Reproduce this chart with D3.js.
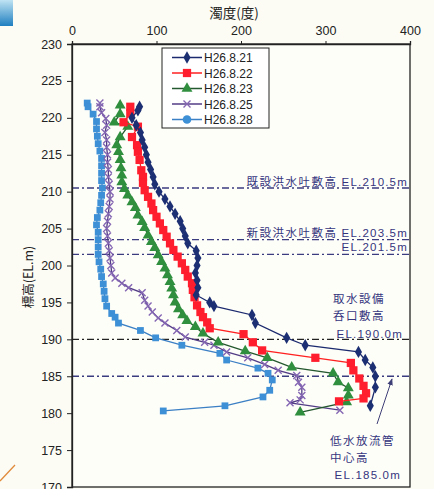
<!DOCTYPE html>
<html>
<head>
<meta charset="utf-8">
<script src="https://cdnjs.cloudflare.com/ajax/libs/d3/7.8.5/d3.min.js"></script>
<style>
  body { margin: 0; background: #fcfcf4; }
  svg { display: block; }
  text { font-family: "Liberation Sans", Arial, sans-serif; fill: #222; }
  .jp { font-family: "Noto Sans CJK JP", sans-serif; }
  .note { fill: #35357e; font-size: 11.5px; }
  .note .cjk { font-family: "Noto Sans CJK JP", sans-serif; letter-spacing: 1.5px; }
  .note .el { font-family: "Liberation Sans", Arial, sans-serif; letter-spacing: 1.2px; }
</style>
</head>
<body>
<svg id="chart"></svg>
<script>
// survey dates
const seriesNames = ['H26.8.21', 'H26.8.22', 'H26.8.23', 'H26.8.25', 'H26.8.28'];
const xTicks = [0, 100, 200, 300, 400];
const yTicks = [170, 175, 180, 185, 190, 195, 200, 205, 210, 215, 220, 225, 230];

// reference levels (EL.m)
const refLevels = [210.5, 203.5, 201.5, 190, 185];

// [elevation EL.m, turbidity]
const d0821 = [[221.5,80],[221,78],[220,71],[219,76],[218,81],[217,83],[216,86],[215,88],[214,90],[213,93],
  [212,96],[211,98],[210,103],[209,110],[208,116],[207,122],[206,128],[205,131],[204,134],[203,137],
  [202,147],[201,149],[200,148],[199,146],[198,148],[197,149],[196,147],[195,163],[194.5,168],[193.3,213],
  [192.2,217],[190.2,254],[189.2,276],[188.3,339],[187.2,347],[186.2,356],[185,359],[183.5,359],[181,353]];
const d0822 = [[221.5,69],[220.6,69],[219.4,61],[218.8,78],[217.4,71],[216.3,77],[215.4,78],[214.3,80],
  [212.9,82],[212,84],[211.2,84],[210.2,86],[209.3,90],[208.4,94],[207.5,96],[206.6,100],[205.7,104],
  [204.8,108],[203.9,112],[203,116],[202.1,120],[201.2,125],[200.3,130],[199.4,134],[198.5,137],[197.6,142],
  [196.7,143],[195.7,145],[194.6,148],[193.7,152],[193,155],[192.3,160],[191.5,163],[190.7,203],[189.6,214],
  [188.5,225],[187.5,288],[186.8,330],[185.8,333],[184.7,340],[183.7,345],[182.7,348],[182,345],[181.6,316]];
const d0823 = [[221.7,57],[220.5,57],[219.4,50],[218.8,66],[217.4,57],[216.3,53],[215.4,55],[214.3,57],
  [213.2,58],[212.2,59],[211.3,59],[210.4,62],[209.5,66],[208.6,71],[207.8,75],[206.8,78],[205.9,83],
  [205.1,86],[204.1,90],[203.2,94],[202.4,98],[201.4,102],[200.5,106],[199.6,110],[198.7,113],[197.8,116],
  [196.9,118],[196,120],[195,122],[194.1,126],[193.3,131],[192.5,136],[191.7,146],[190.8,155],[189.6,173],
  [188.4,205],[187.5,231],[186.2,260],[185.4,309],[184.2,315],[183.4,327],[182.4,327],[181.5,325],[180.1,270]];
const d0825 = [[222,33],[221.5,33],[220.7,35],[219.9,40],[219,41],[218,39],[217,41],[216,41],[215,42],
  [214,42],[213,43],[212,43],[211,44],[210,45],[209,45],[208,44],[207,43],[206,42],[205,41],[204,42],
  [203,43],[202,44],[201,45],[200,46],[199,47],[198.3,51],[197.6,59],[197,67],[196.3,83],[195.3,86],
  [194.5,90],[193.7,95],[192.9,102],[192.2,110],[191.2,124],[190.3,134],[189.6,157],[189.2,168],[188.3,183],
  [187.5,208],[186.6,228],[185.8,244],[185.1,266],[184.2,268],[183.5,272],[182.4,272],[181.8,270],
  [181.4,258],[180.4,317]];
const d0828 = [[222,18],[221.5,19],[220.5,25],[219.5,29],[218.5,29],[217.5,30],[216.5,31],[215.5,33],
  [214.5,35],[213.5,35],[212.5,35],[211.5,35],[210.5,36],[209.5,35],[208.5,34],[207.5,33],[206.5,30],
  [205.5,29],[204.5,31],[203.5,31],[202.5,31],[201.5,31],[200.5,32],[199.5,34],[198.5,35],[197.5,37],
  [196.5,38],[195.5,39],[194.5,41],[193.5,47],[193,51],[192.2,55],[191.2,81],[190.2,99],[189.2,130],
  [188.1,175],[187.2,183],[186.1,220],[185.4,232],[184.5,237],[183.1,234],[182.2,226],[181,181],[180.3,108]];

const width = 434, height = 489;
const svg = d3.select('#chart').attr('width', width).attr('height', height);

const x = d3.scaleLinear().domain([0, 400]).range([72, 410]);
const y = d3.scaleLinear().domain([170, 230]).range([487, 44]);

// decoration in the corners of the scan
const defs = svg.append('defs');
const grad = defs.append('linearGradient')
    .attr('id', 'corner').attr('x1', 0).attr('y1', 0).attr('x2', 0).attr('y2', 1);
grad.append('stop').attr('offset', '0%').attr('stop-color', '#bfe3f3');
grad.append('stop').attr('offset', '100%').attr('stop-color', '#1f7fc0');
svg.append('rect').attr('x', 0).attr('y', 0).attr('width', 13).attr('height', 26).attr('fill', 'url(#corner)');
svg.append('line').attr('x1', 0).attr('y1', 481).attr('x2', 15).attr('y2', 465)
    .attr('stroke', '#e08a3a').attr('stroke-width', 1.2);

defs.append('marker')
    .attr('id', 'arrow').attr('viewBox', '0 0 10 10').attr('refX', 9).attr('refY', 5)
    .attr('markerWidth', 7).attr('markerHeight', 7).attr('orient', 'auto')
  .append('path').attr('d', 'M0,1L10,5L0,9z').attr('fill', '#3f3f78');

// plot frame
svg.append('rect')
    .attr('x', x(0)).attr('y', y(230))
    .attr('width', x(400) - x(0)).attr('height', y(170) - y(230))
    .attr('fill', '#fefef8').attr('stroke', '#222').attr('stroke-width', 1.3);

// reference levels
svg.append('g').selectAll('line')
    .data(refLevels)
    .join('line')
    .attr('x1', x(0)).attr('x2', x(400))
    .attr('y1', d => y(d)).attr('y2', d => y(d))
    .attr('stroke', d => d === 190 ? '#222' : '#3b3b80')
    .attr('stroke-width', 1.3)
    .attr('stroke-dasharray', '7,3,2,3');

// axes
const gx = svg.append('g')
    .attr('transform', `translate(0,${y(230)})`)
    .call(d3.axisTop(x).tickValues(xTicks).tickSize(3).tickPadding(6));
const gy = svg.append('g')
    .attr('transform', `translate(${x(0)},0)`)
    .call(d3.axisLeft(y).tickValues(yTicks).tickSize(5).tickPadding(5));
[gx, gy].forEach(g => {
    g.select('.domain').attr('stroke', '#222').attr('stroke-width', 1.3);
    g.selectAll('.tick line').attr('stroke', '#222');
    g.selectAll('.tick text').attr('font-size', 12.5).attr('fill', '#222')
        .style('font-family', '"Liberation Sans", Arial, sans-serif');
});

svg.append('text').attr('class', 'jp')
    .attr('x', 234).attr('y', 18).attr('text-anchor', 'middle')
    .attr('font-size', 13.5).text('濁度(度)');
svg.append('text').attr('class', 'jp')
    .attr('transform', 'translate(33,277) rotate(-90)').attr('text-anchor', 'middle')
    .attr('font-size', 12.5).text('標高(EL.m)');

// series styles
const styles = [
    {data: d0821, line: '#1b2a6e', fill: '#1c2f73', shape: d3.symbolDiamond, size: 44},
    {data: d0822, line: '#ff2020', fill: '#ff1e2d', shape: d3.symbolSquare, size: 68},
    {data: d0823, line: '#24582e', fill: '#2f8f3f', shape: d3.symbolTriangle, size: 52},
    {data: d0825, line: '#523c86', fill: '#8466b3', shape: 'x', size: 3.5},
    {data: d0828, line: '#3b7fc4', fill: '#3d8fd6', shape: d3.symbolSquare, size: 46}
];

const line = d3.line().x(d => x(d[1])).y(d => y(d[0]));

function marker(sel, s) {
    if (s.shape === 'x') {
        const r = s.size;
        sel.append('path')
            .attr('d', `M${-r},${-r}L${r},${r}M${-r},${r}L${r},${-r}`)
            .attr('stroke', s.fill).attr('stroke-width', 1.4).attr('fill', 'none');
    } else {
        sel.append('path')
            .attr('d', d3.symbol().type(s.shape).size(s.size))
            .attr('fill', s.fill);
    }
}

// draw back to front: last survey underneath
styles.slice().reverse().forEach(s => {
    const g = svg.append('g');
    g.append('path')
        .datum(s.data)
        .attr('d', line)
        .attr('fill', 'none')
        .attr('stroke', s.line)
        .attr('stroke-width', 1.3);
    g.selectAll('g')
        .data(s.data)
        .join('g')
        .attr('transform', d => `translate(${x(d[1])},${y(d[0])})`)
        .each(function() { marker(d3.select(this), s); });
});

// legend
const lg = svg.append('g').attr('transform', 'translate(162,48)');
lg.append('rect').attr('width', 107).attr('height', 80)
    .attr('fill', '#fff').attr('stroke', '#222').attr('stroke-width', 1);
styles.forEach((s, i) => {
    const row = lg.append('g').attr('transform', `translate(0,${9.5 + i * 15.5})`);
    row.append('line').attr('x1', 10).attr('x2', 40).attr('stroke', s.line).attr('stroke-width', 1.5);
    const m = row.append('g').attr('transform', 'translate(25,0)');
    if (i === 4) {
        m.append('circle').attr('r', 4.3).attr('fill', s.fill);
    } else {
        marker(m, s);
    }
    row.append('text').attr('x', 42).attr('y', 4.5)
        .attr('font-size', 12).text(seriesNames[i]);
});

// level notes: Japanese part + EL part
const notes = [
    {x: 408, y: 186, anchor: 'end', jp: '既設洪水吐敷高', el: 'EL.210.5m'},
    {x: 408, y: 237, anchor: 'end', jp: '新設洪水吐敷高', el: 'EL.203.5m'},
    {x: 408, y: 251, anchor: 'end', jp: '', el: 'EL.201.5m'},
    {x: 333, y: 303, anchor: 'start', jp: '取水設備', el: ''},
    {x: 333, y: 320, anchor: 'start', jp: '呑口敷高', el: ''},
    {x: 403, y: 338, anchor: 'end', jp: '', el: 'EL.190.0m'},
    {x: 330, y: 445, anchor: 'start', jp: '低水放流管', el: ''},
    {x: 330, y: 462, anchor: 'start', jp: '中心高', el: ''},
    {x: 401, y: 479, anchor: 'end', jp: '', el: 'EL.185.0m'}
];
const nt = svg.append('g').selectAll('text')
    .data(notes)
    .join('text')
    .attr('class', 'note')
    .attr('x', d => d.x).attr('y', d => d.y)
    .attr('text-anchor', d => d.anchor);
nt.filter(d => d.jp).append('tspan').attr('class', 'cjk').text(d => d.jp);
nt.filter(d => d.el).append('tspan').attr('class', 'el')
    .attr('dx', d => d.jp ? 4 : 0).text(d => d.el);

svg.append('line')
    .attr('x1', 377).attr('y1', 424).attr('x2', 392).attr('y2', 379)
    .attr('stroke', '#3f3f78').attr('stroke-width', 1)
    .attr('marker-end', 'url(#arrow)');
</script>
</body>
</html>
